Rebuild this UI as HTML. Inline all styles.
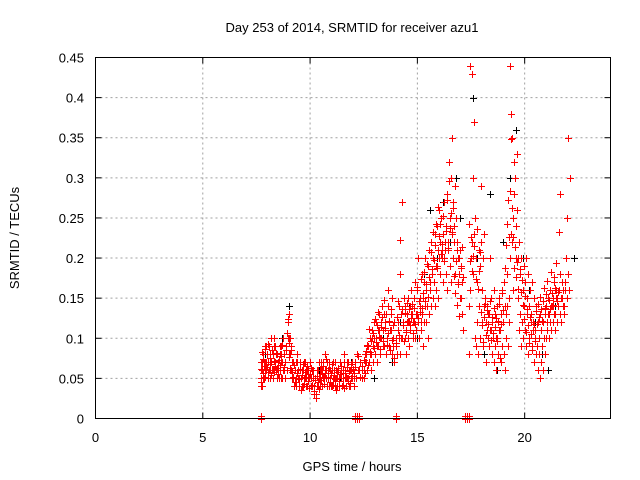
<!DOCTYPE html>
<html><head><meta charset="utf-8"><style>
body{margin:0;background:#fff}
svg{display:block;font-family:"Liberation Sans",sans-serif}
</style></head><body>
<svg id="chart" width="640" height="480" viewBox="0 0 640 480">
<rect width="640" height="480" fill="#fff"/>
<text x="352" y="32" font-size="13" text-anchor="middle">Day 253 of 2014, SRMTID for receiver azu1</text>
<text x="352" y="471" font-size="13" text-anchor="middle">GPS time / hours</text>
<text x="19" y="238" font-size="13" text-anchor="middle" transform="rotate(-90 19 238)">SRMTID / TECUs</text>
<g id="grid"></g>
<g id="ticks"></g>
<g id="black"></g>
<g id="red"></g>
<rect x="95.5" y="57.5" width="515" height="361" fill="none" stroke="#000"/>
</svg>
<script>
const xTicks=[0,5,10,15,20];
const yTicks=[0,0.05,0.1,0.15,0.2,0.25,0.3,0.35,0.4,0.45];
const yLabels=["0","0.05","0.1","0.15","0.2","0.25","0.3","0.35","0.4","0.45"];
const redT=[7.7,7.72,7.75,7.78,7.8,7.85,7.88,7.9,7.95,8.0,8.02,8.05,8.1,8.12,8.15,8.2,8.25,8.3,8.32,8.35,8.4,8.45,8.5,8.55,8.6,8.62,8.65,8.7,8.75,8.8,8.85,8.9,8.95,9.0,9.02,9.05,9.1,9.15,9.2,9.25,9.3,9.35,9.4,9.45,9.5,9.55,9.6,9.65,9.7,9.75,9.8,9.85,9.9,9.95,10.0,10.05,10.1,10.15,10.2,10.25,10.3,10.35,10.4,10.45,10.5,10.55,10.6,10.65,10.7,10.75,10.8,10.85,10.9,10.95,11.0,11.05,11.1,11.15,11.2,11.25,11.3,11.35,11.4,11.45,11.5,11.55,11.6,11.65,11.7,11.75,11.8,11.85,11.9,11.95,12.0,12.05,12.1,12.2,12.3,12.4,12.5,12.55,12.6,12.65,12.7,12.75,12.8,12.85,12.9,12.95,13.0,13.05,13.1,13.15,13.2,13.25,13.3,13.35,13.4,13.45,13.5,13.55,13.6,13.65,13.7,13.75,13.8,13.85,13.9,14.0,14.05,14.1,14.15,14.2,14.25,14.3,14.35,14.4,14.45,14.5,14.55,14.6,14.65,14.7,14.75,14.8,14.85,14.9,14.95,15.0,15.05,15.1,15.15,15.2,15.25,15.3,15.35,15.4,15.45,15.5,15.55,15.6,15.65,15.7,15.75,15.8,15.85,15.9,15.95,16.0,16.05,16.1,16.15,16.2,16.25,16.3,16.35,16.4,16.45,16.5,16.55,16.6,16.65,16.7,16.75,16.8,16.85,16.9,16.95,17.0,17.05,17.1,17.4,17.45,17.5,17.55,17.6,17.65,17.7,17.75,17.8,17.85,17.9,17.95,18.0,18.05,18.1,18.15,18.2,18.25,18.3,18.35,18.4,18.45,18.5,18.55,18.6,18.65,18.7,18.75,18.8,18.85,18.9,18.95,19.0,19.05,19.1,19.15,19.2,19.25,19.3,19.35,19.4,19.45,19.5,19.55,19.6,19.65,19.7,19.75,19.8,19.85,19.9,19.95,20.0,20.05,20.1,20.15,20.2,20.25,20.3,20.35,20.4,20.45,20.5,20.55,20.6,20.65,20.7,20.75,20.8,20.85,20.9,20.95,21.0,21.05,21.1,21.15,21.2,21.25,21.3,21.35,21.4,21.45,21.5,21.55,21.6,21.65,21.7,21.75,21.8,21.85,21.9,21.95,22.0,22.05,22.1,22.15,22.2,22.25,22.3,22.35,22.4,22.45,22.5,22.6];
const redA=[0.05,0.04,0.07,0.06,0.08,0.05,0.09,0.07,0.06,0.08,0.05,0.07,0.09,0.06,0.08,0.07,0.05,0.09,0.1,0.07,0.06,0.08,0.07,0.05,0.09,0.06,0.08,0.07,0.1,0.06,0.05,0.09,0.12,0.13,0.1,0.08,0.06,0.07,0.05,0.04,0.06,0.05,0.08,0.06,0.05,0.07,0.04,0.06,0.05,0.07,0.06,0.04,0.06,0.05,0.07,0.05,0.04,0.06,0.03,0.05,0.06,0.04,0.07,0.05,0.06,0.04,0.07,0.05,0.08,0.06,0.04,0.05,0.07,0.06,0.04,0.05,0.06,0.07,0.05,0.04,0.06,0.05,0.07,0.06,0.04,0.05,0.08,0.06,0.05,0.07,0.04,0.06,0.05,0.07,0.06,0.05,0.07,0.08,0.06,0.05,0.06,0.07,0.08,0.06,0.09,0.07,0.1,0.08,0.11,0.09,0.1,0.12,0.09,0.11,0.13,0.1,0.12,0.14,0.11,0.09,0.12,0.13,0.1,0.14,0.12,0.11,0.15,0.09,0.12,0.1,0.08,0.11,0.14,0.18,0.13,0.1,0.12,0.14,0.11,0.13,0.15,0.12,0.14,0.16,0.13,0.12,0.15,0.17,0.13,0.16,0.2,0.14,0.12,0.18,0.15,0.17,0.2,0.16,0.14,0.19,0.21,0.17,0.22,0.18,0.2,0.23,0.19,0.24,0.21,0.26,0.22,0.25,0.2,0.23,0.27,0.21,0.24,0.28,0.22,0.25,0.3,0.23,0.27,0.24,0.29,0.25,0.22,0.2,0.18,0.21,0.15,0.17,0.14,0.16,0.2,0.22,0.18,0.23,0.25,0.2,0.17,0.21,0.19,0.22,0.16,0.2,0.23,0.15,0.12,0.14,0.1,0.13,0.11,0.15,0.12,0.16,0.13,0.1,0.14,0.12,0.15,0.11,0.13,0.16,0.12,0.17,0.14,0.13,0.18,0.15,0.2,0.23,0.22,0.25,0.28,0.3,0.24,0.26,0.2,0.22,0.18,0.2,0.16,0.19,0.17,0.2,0.15,0.18,0.14,0.16,0.13,0.17,0.12,0.15,0.11,0.14,0.12,0.1,0.13,0.11,0.09,0.12,0.1,0.13,0.14,0.12,0.15,0.13,0.16,0.14,0.15,0.17,0.13,0.16,0.15,0.14,0.16,0.18,0.15,0.17,0.16,0.14,0.17,0.15,0.18,0.16,0.3];
const redB=[0.07,0.06,0.04,0.08,0.05,0.07,0.06,0.09,0.08,0.05,0.07,0.06,0.05,0.08,0.1,0.06,0.08,0.06,0.07,0.09,0.08,0.05,0.06,0.08,0.07,0.09,0.05,0.06,0.08,0.07,0.09,0.06,0.1,0.08,0.06,0.1,0.09,0.05,0.07,0.06,0.04,0.07,0.05,0.04,0.06,0.05,0.06,0.04,0.07,0.05,0.04,0.06,0.05,0.07,0.04,0.06,0.05,0.04,0.05,0.03,0.04,0.06,0.05,0.04,0.07,0.06,0.05,0.06,0.05,0.07,0.06,0.04,0.05,0.04,0.06,0.07,0.05,0.04,0.06,0.05,0.04,0.07,0.05,0.04,0.06,0.07,0.05,0.04,0.07,0.05,0.06,0.04,0.06,0.05,0.04,0.07,0.05,0.06,0.07,0.06,0.05,0.08,0.07,0.09,0.07,0.08,0.06,0.1,0.07,0.12,0.08,0.1,0.07,0.09,0.11,0.08,0.1,0.09,0.13,0.12,0.08,0.1,0.16,0.09,0.11,0.13,0.08,0.1,0.07,0.09,0.12,0.1,0.08,0.1,0.27,0.12,0.15,0.1,0.08,0.12,0.1,0.09,0.11,0.13,0.1,0.12,0.1,0.11,0.13,0.12,0.1,0.15,0.11,0.13,0.09,0.12,0.14,0.12,0.1,0.13,0.16,0.14,0.18,0.15,0.17,0.14,0.16,0.19,0.15,0.2,0.18,0.21,0.17,0.2,0.22,0.18,0.16,0.21,0.32,0.19,0.17,0.35,0.2,0.22,0.18,0.21,0.17,0.2,0.15,0.19,0.13,0.11,0.08,0.44,0.43,0.3,0.37,0.1,0.09,0.12,0.08,0.14,0.1,0.29,0.12,0.09,0.14,0.07,0.11,0.13,0.09,0.2,0.11,0.08,0.1,0.07,0.09,0.06,0.1,0.08,0.11,0.07,0.09,0.12,0.08,0.06,0.1,0.14,0.09,0.12,0.44,0.38,0.35,0.16,0.32,0.2,0.33,0.15,0.11,0.13,0.09,0.12,0.1,0.14,0.11,0.09,0.13,0.08,0.1,0.12,0.09,0.11,0.07,0.1,0.08,0.09,0.06,0.08,0.05,0.07,0.09,0.06,0.08,0.1,0.11,0.13,0.1,0.12,0.11,0.14,0.12,0.13,0.11,0.15,0.12,0.14,0.13,0.12,0.15,0.14,0.13,0.16,0.2,0.25,0.35];
const redC=[0.045,0.062,0.083,0.057,0.074,0.066,0.052,0.087,0.071,0.064,0.093,0.058,0.076,0.068,0.054,0.085,0.061,0.072,0.058,0.066,0.082,0.063,0.055,0.073,0.067,0.051,0.078,0.092,0.064,0.071,0.086,0.107,0.124,0.094,0.077,0.063,0.085,0.058,0.052,0.067,0.046,0.071,0.057,0.049,0.062,0.036,0.054,0.068,0.043,0.058,0.052,0.065,0.047,0.038,0.056,0.063,0.042,0.034,0.048,0.026,0.053,0.045,0.037,0.061,0.048,0.055,0.066,0.043,0.057,0.074,0.052,0.063,0.046,0.057,0.068,0.042,0.054,0.049,0.036,0.058,0.063,0.047,0.055,0.066,0.042,0.038,0.057,0.052,0.064,0.047,0.059,0.044,0.068,0.053,0.062,0.057,0.064,0.078,0.052,0.066,0.073,0.057,0.084,0.092,0.067,0.112,0.083,0.097,0.106,0.088,0.124,0.095,0.117,0.133,0.102,0.087,0.114,0.126,0.096,0.148,0.113,0.092,0.106,0.121,0.085,0.137,0.098,0.116,0.076,0.094,0.126,0.147,0.104,0.223,0.137,0.116,0.097,0.132,0.108,0.144,0.122,0.136,0.117,0.125,0.143,0.107,0.138,0.118,0.164,0.125,0.146,0.133,0.174,0.138,0.157,0.182,0.146,0.168,0.193,0.152,0.176,0.207,0.186,0.232,0.198,0.216,0.243,0.187,0.264,0.227,0.243,0.205,0.218,0.253,0.196,0.234,0.272,0.212,0.296,0.238,0.256,0.232,0.263,0.178,0.156,0.196,0.142,0.168,0.128,0.187,0.214,0.176,0.243,0.196,0.226,0.184,0.203,0.215,0.174,0.236,0.162,0.184,0.207,0.133,0.116,0.095,0.127,0.143,0.104,0.135,0.118,0.146,0.098,0.126,0.107,0.138,0.114,0.125,0.097,0.122,0.143,0.076,0.118,0.156,0.135,0.187,0.216,0.243,0.272,0.226,0.284,0.348,0.263,0.226,0.187,0.214,0.176,0.195,0.162,0.186,0.158,0.173,0.142,0.124,0.153,0.108,0.136,0.117,0.094,0.127,0.105,0.086,0.118,0.097,0.134,0.118,0.143,0.126,0.152,0.137,0.122,0.146,0.163,0.138,0.155,0.172,0.148,0.136,0.183,0.157,0.142,0.176,0.163,0.194,0.147,0.158,0.232,0.28];
const blackT=[7.9,8.3,8.7,9.0,9.4,9.9,10.4,10.9,11.4,11.9,12.5,13.0,13.4,13.8,14.2,14.6,15.0,15.3,15.6,15.9,16.2,16.5,16.8,17.0,17.6,17.8,18.1,18.4,18.7,19.0,19.3,19.6,19.9,20.2,20.5,20.8,21.1,21.4,21.7,22.0,22.3];
const blackV=[0.08,0.06,0.1,0.14,0.07,0.05,0.06,0.04,0.05,0.07,0.06,0.05,0.1,0.07,0.12,0.14,0.1,0.18,0.26,0.2,0.27,0.22,0.3,0.25,0.4,0.2,0.08,0.28,0.06,0.22,0.3,0.36,0.2,0.16,0.12,0.08,0.06,0.14,0.12,0.18,0.2];
const zeroT=[7.7,12.1,12.2,12.3,14.0,17.2,17.3,17.4];
const X0=95.5,X1=610.5,Y0=418.5,Y1=57.5;
function sx(t){return X0+(t/24)*(X1-X0);}
function sy(v){return Y0-(v/0.45)*(Y0-Y1);}
const NS="http://www.w3.org/2000/svg";
function mk(tag,attrs,parent){const e=document.createElementNS(NS,tag);for(const k in attrs)e.setAttribute(k,attrs[k]);parent.appendChild(e);return e;}
const grid=document.getElementById('grid'),ticks=document.getElementById('ticks');
xTicks.forEach(t=>{
  const x=sx(t);
  if(t>0){const g=mk('line',{x1:x,x2:x,y1:Y1,y2:Y0,stroke:'#a0a0a0','stroke-dasharray':'2,3'},grid);
  
  }
  mk('line',{x1:x,x2:x,y1:Y0,y2:Y0-6,stroke:'#000'},ticks);
  mk('line',{x1:x,x2:x,y1:Y1,y2:Y1+6,stroke:'#000'},ticks);
  const l=mk('text',{x:x,y:442,'font-size':13,'text-anchor':'middle'},ticks);l.textContent=t;
  
  
});
yTicks.forEach((v,i)=>{
  const y=sy(v);
  if(v>0&&v<0.45){const g=mk('line',{x1:X0,x2:X1,y1:y,y2:y,stroke:'#a0a0a0','stroke-dasharray':'2,3'},grid);
  
  }
  mk('line',{x1:X0,x2:X0+6,y1:y,y2:y,stroke:'#000'},ticks);
  mk('line',{x1:X1,x2:X1-6,y1:y,y2:y,stroke:'#000'},ticks);
  const l=mk('text',{x:84,y:y+5,'font-size':13,'text-anchor':'end'},ticks);l.textContent=yLabels[i];
  
  
});
function plus(g,t,v,c){
  const x=Math.round(sx(t))+0.5,y=Math.round(sy(v))+0.5;
  const p=mk('path',{d:`M${x-3.5} ${y}H${x+3.5}M${x} ${y-3.5}V${y+3.5}`,stroke:c,'stroke-width':1,fill:'none'},g);
  
  
}
const bg=document.getElementById('black'),rg=document.getElementById('red');
blackT.forEach((t,i)=>plus(bg,t,blackV[i],'#000'));
redT.forEach((t,i)=>{
  plus(rg,t,redA[i],'#f00');
  plus(rg,t+0.025,redB[i],'#f00');
  if(redC[i]!==undefined)plus(rg,t+0.012,redC[i],'#f00');
});
zeroT.forEach(t=>{plus(rg,t,0,'#f00');plus(rg,t,0.003,'#f00');});
</script>
</body></html>
